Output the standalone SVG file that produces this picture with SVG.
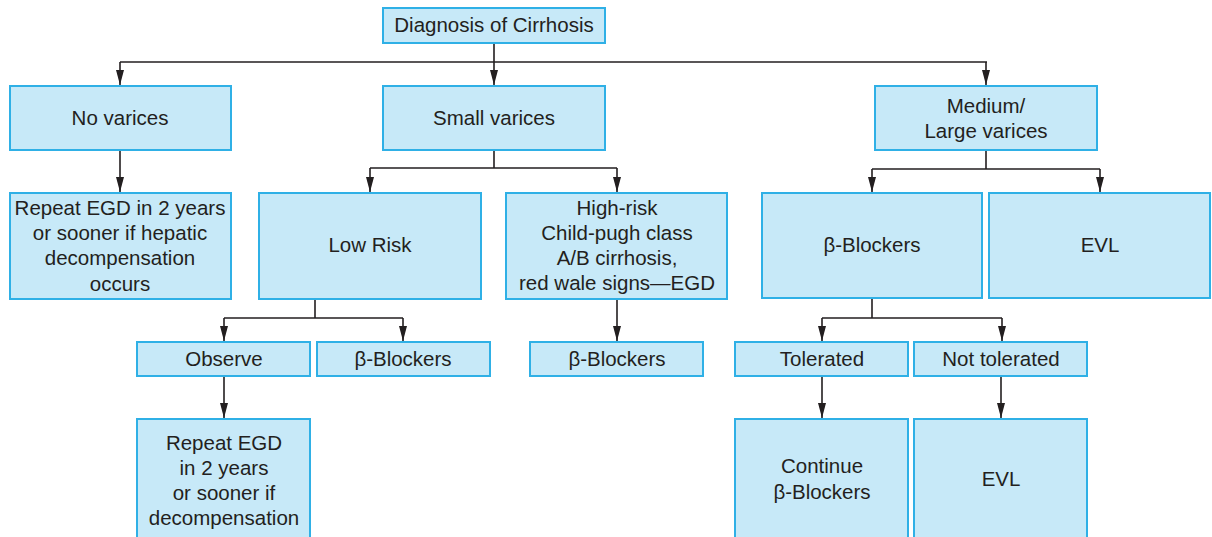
<svg xmlns="http://www.w3.org/2000/svg" width="1212" height="537" viewBox="0 0 1212 537">
<style>
.box{fill:#c7e9f8;stroke:#2fb0e6;stroke-width:2}
.t{font-family:"Liberation Sans",Arial,sans-serif;font-size:20.5px;fill:#231f20;text-anchor:middle}
.c{fill:none;stroke:#231f20;stroke-width:1.6}
</style>
<defs>
<marker id="ah" markerUnits="userSpaceOnUse" markerWidth="16" markerHeight="10" viewBox="0 0 16 10" refX="15" refY="5" orient="auto">
<path d="M0,1 L15,5 L0,9 Z" fill="#231f20"/>
</marker>
</defs>
<rect width="1212" height="537" fill="#fff"/>
<g id="connectors">
<path class="c" d="M494,43 V62 M120,62 H987"/>
<path class="c" d="M120,62 V85" marker-end="url(#ah)"/>
<path class="c" d="M494,62 V85" marker-end="url(#ah)"/>
<path class="c" d="M986,62 V85" marker-end="url(#ah)"/>
<path class="c" d="M120,150 V192" marker-end="url(#ah)"/>
<path class="c" d="M494,150 V168 M370,168 H617"/>
<path class="c" d="M370,168 V192" marker-end="url(#ah)"/>
<path class="c" d="M617,168 V192" marker-end="url(#ah)"/>
<path class="c" d="M986,150 V169 M872,169 H1100"/>
<path class="c" d="M872,169 V192" marker-end="url(#ah)"/>
<path class="c" d="M1100,169 V192" marker-end="url(#ah)"/>
<path class="c" d="M315,299 V318 M224,318 H403"/>
<path class="c" d="M224,318 V341" marker-end="url(#ah)"/>
<path class="c" d="M403,318 V341" marker-end="url(#ah)"/>
<path class="c" d="M617,299 V341" marker-end="url(#ah)"/>
<path class="c" d="M872,298 V318 M822,318 H1002"/>
<path class="c" d="M822,318 V341" marker-end="url(#ah)"/>
<path class="c" d="M1002,318 V341" marker-end="url(#ah)"/>
<path class="c" d="M224,376 V418" marker-end="url(#ah)"/>
<path class="c" d="M822,376 V418" marker-end="url(#ah)"/>
<path class="c" d="M1001,376 V418" marker-end="url(#ah)"/>
</g>
<g id="n-diagnosis"><rect class="box" x="383" y="8" width="222" height="35"/><text class="t" x="494" y="32">Diagnosis of Cirrhosis</text></g>
<g id="n-novarices"><rect class="box" x="10" y="86" width="221" height="64"/><text class="t" x="120" y="125">No varices</text></g>
<g id="n-small"><rect class="box" x="383" y="86" width="222" height="64"/><text class="t" x="494" y="125">Small varices</text></g>
<g id="n-medium"><rect class="box" x="875" y="86" width="222" height="64"/><text class="t" x="986" y="113">Medium/</text><text class="t" x="986" y="138">Large varices</text></g>
<g id="n-repeat1"><rect class="box" x="10" y="193" width="221" height="106"/><text class="t" x="120" y="215">Repeat EGD in 2 years</text><text class="t" x="120" y="240">or sooner if hepatic</text><text class="t" x="120" y="265">decompensation</text><text class="t" x="120" y="291">occurs</text></g>
<g id="n-lowrisk"><rect class="box" x="259" y="193" width="222" height="106"/><text class="t" x="370" y="252">Low Risk</text></g>
<g id="n-highrisk"><rect class="box" x="506" y="193" width="221" height="106"/><text class="t" x="617" y="215">High-risk</text><text class="t" x="617" y="240">Child-pugh class</text><text class="t" x="617" y="265">A/B cirrhosis,</text><text class="t" x="617" y="290">red wale signs—EGD</text></g>
<g id="n-bb-med"><rect class="box" x="762" y="193" width="220" height="105"/><text class="t" x="872" y="252">β-Blockers</text></g>
<g id="n-evl1"><rect class="box" x="989" y="193" width="221" height="105"/><text class="t" x="1100" y="252">EVL</text></g>
<g id="n-observe"><rect class="box" x="137" y="342" width="173" height="34"/><text class="t" x="224" y="366">Observe</text></g>
<g id="n-bb-low"><rect class="box" x="317" y="342" width="173" height="34"/><text class="t" x="403" y="366">β-Blockers</text></g>
<g id="n-bb-high"><rect class="box" x="530" y="342" width="173" height="34"/><text class="t" x="617" y="366">β-Blockers</text></g>
<g id="n-tolerated"><rect class="box" x="735" y="342" width="173" height="34"/><text class="t" x="822" y="366">Tolerated</text></g>
<g id="n-nottolerated"><rect class="box" x="914" y="342" width="173" height="34"/><text class="t" x="1001" y="366">Not tolerated</text></g>
<g id="n-repeat2"><rect class="box" x="137" y="419" width="173" height="125"/><text class="t" x="224" y="450">Repeat EGD</text><text class="t" x="224" y="475">in 2 years</text><text class="t" x="224" y="500">or sooner if</text><text class="t" x="224" y="525">decompensation</text></g>
<g id="n-continue"><rect class="box" x="735" y="419" width="173" height="125"/><text class="t" x="822" y="473">Continue</text><text class="t" x="822" y="499">β-Blockers</text></g>
<g id="n-evl2"><rect class="box" x="914" y="419" width="173" height="125"/><text class="t" x="1001" y="486">EVL</text></g>
</svg>
